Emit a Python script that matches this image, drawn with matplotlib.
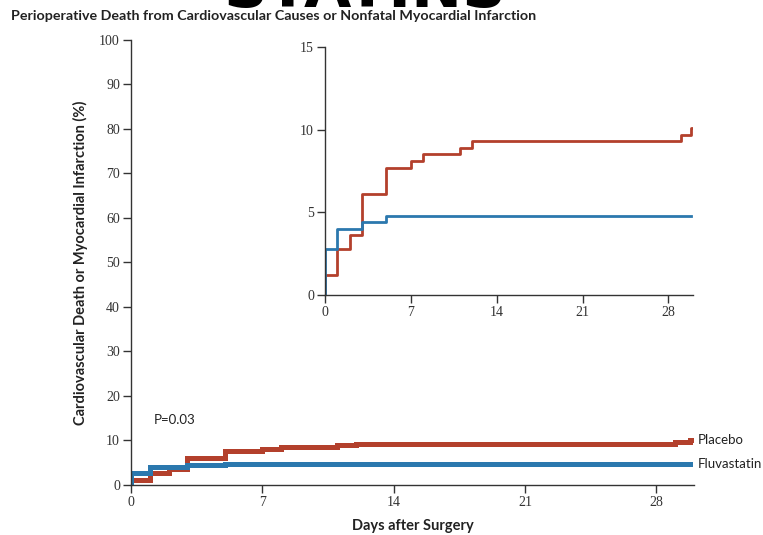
import numpy as np
import matplotlib
matplotlib.use("Agg")
import matplotlib.pyplot as plt

# Kaplan-Meier style cumulative event curves (%), step changes at given days
placebo_days = [0, 0, 1, 2, 3, 5, 7, 8, 11, 12, 29, 29.8, 30]
placebo_pct = [0, 1.2, 2.8, 3.6, 6.1, 7.7, 8.1, 8.5, 8.9, 9.3, 9.7, 10.1, 10.1]
fluva_days = [0, 0, 1, 3, 5, 29.8]
fluva_pct = [0, 2.8, 4.0, 4.4, 4.8, 4.8]

main_xticks = [0, 7, 14, 21, 28]
main_yticks = list(range(0, 101, 10))
inset_yticks = [0, 5, 10, 15]

red = "#b3402c"
blue = "#2b78ae"
tick_font = "Liberation Serif"
label_font = "Lato"

fig = plt.figure(figsize=(7.63, 5.35), dpi=100)

fig.text(0.478, 0.986, "STATINS", fontsize=44, fontweight="bold",
         family="DejaVu Sans", ha="center", va="baseline", color="black")
fig.text(0.014, 0.970, "Perioperative Death from Cardiovascular Causes or Nonfatal Myocardial Infarction",
         fontsize=10.3, family=label_font, fontweight="bold", color="#222222",
         ha="left", va="center")


def style_axes(ax, ylim, yticks, fs):
    ax.set_xlim(0, 30)
    ax.set_ylim(*ylim)
    ax.set_xticks(main_xticks)
    ax.set_yticks(yticks)
    for s in ["top", "right"]:
        ax.spines[s].set_visible(False)
    for s in ["left", "bottom"]:
        ax.spines[s].set_color("#333333")
        ax.spines[s].set_linewidth(1.0)
    ax.tick_params(direction="out", length=6, width=1.0, color="#333333",
                   labelsize=fs, labelcolor="#333333", pad=2)
    for lbl in ax.get_xticklabels() + ax.get_yticklabels():
        lbl.set_family(tick_font)
    ax.patch.set_alpha(0)


# main plot
ax = fig.add_axes([0.1717, 0.0935, 0.7379, 0.8318])
style_axes(ax, (0, 100), main_yticks, 10)
ax.step(placebo_days, placebo_pct, where="post", color=red, lw=3.6, solid_joinstyle="miter")
ax.step(fluva_days, fluva_pct, where="post", color=blue, lw=3.6, solid_joinstyle="miter")
ax.text(30.2, placebo_pct[-1], "Placebo", fontsize=9.5, family=label_font,
        color="#222222", va="center", ha="left")
ax.text(30.2, fluva_pct[-1], "Fluvastatin", fontsize=9.5, family=label_font,
        color="#222222", va="center", ha="left")
ax.text(2.3, 14.5, "P=0.03", fontsize=9.5, family=label_font, color="#222222",
        ha="center", va="center")
ax.set_xlabel("Days after Surgery", fontsize=10.5, family=label_font,
              fontweight="bold", color="#222222", labelpad=7)
ax.set_ylabel("Cardiovascular Death or Myocardial Infarction (%)", fontsize=10.5,
              family=label_font, fontweight="bold", color="#222222", labelpad=8)

# inset
axi = fig.add_axes([0.426, 0.4486, 0.4823, 0.4636])
style_axes(axi, (0, 15), inset_yticks, 10)
axi.step(placebo_days, placebo_pct, where="post", color=red, lw=2.0)
axi.step(fluva_days, fluva_pct, where="post", color=blue, lw=2.0)

fig.savefig("out.png", dpi=100)
